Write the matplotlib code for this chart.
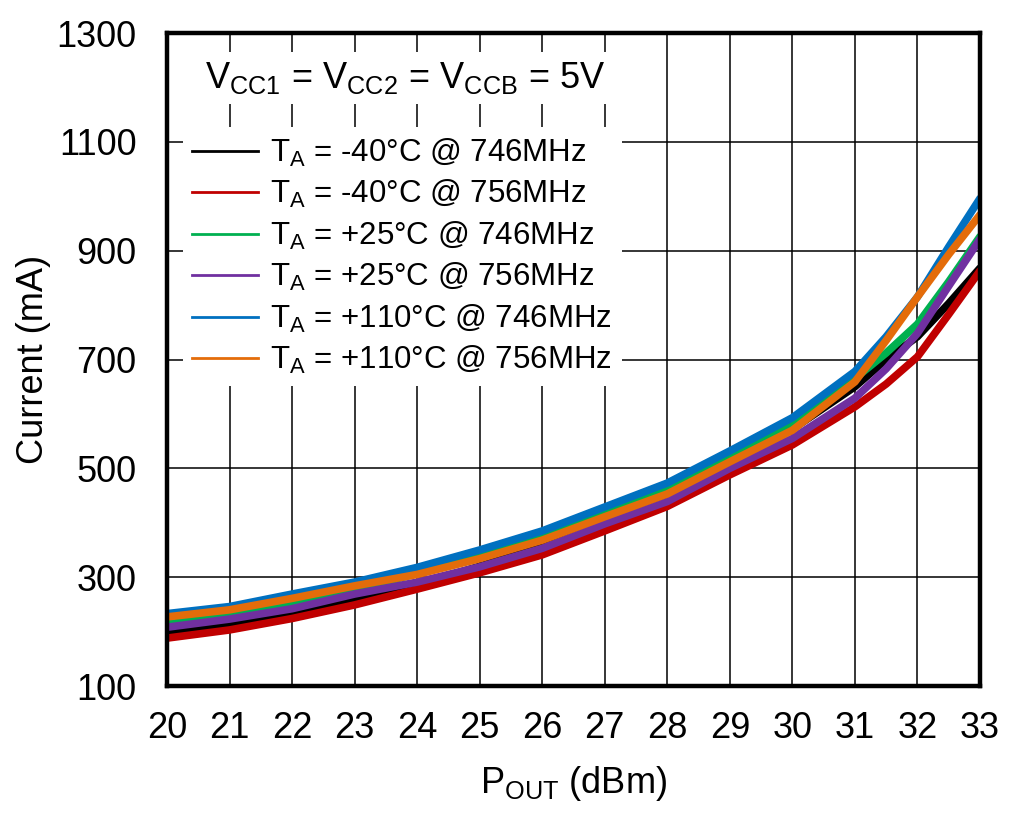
import numpy as np
import matplotlib
matplotlib.use("Agg")
import matplotlib.pyplot as plt
from matplotlib.lines import Line2D

plt.rcParams['font.family'] = ['Liberation Sans', 'DejaVu Sans']
plt.rcParams['mathtext.fontset'] = 'custom'
plt.rcParams['mathtext.rm'] = 'Liberation Sans'
plt.rcParams['mathtext.it'] = 'Liberation Sans:italic'

# output power (dBm)
pout = [20, 21, 22, 23, 24, 25, 26, 27, 28, 29, 30, 31, 31.5, 32, 32.5, 33]

# supply current (mA)
m40_746 = [199, 213, 234, 261, 286, 320, 358, 402, 447, 510, 572, 650, 700, 742, 803, 868]
m40_756 = [188, 203, 224, 249, 278, 308, 341, 385, 430, 488, 543, 613, 655, 705, 783, 863]
p25_746 = [214, 229, 251, 276, 307, 340, 376, 420, 463, 521, 583, 665, 712, 765, 843, 926]
p25_756 = [208, 223, 242, 269, 291, 319, 353, 398, 439, 500, 555, 629, 683, 748, 835, 921]
p110_746 = [233, 246, 269, 291, 318, 350, 385, 429, 473, 532, 593, 678, 742, 815, 907, 996]
p110_756 = [227, 240, 261, 284, 305, 334, 368, 411, 453, 512, 570, 659, 735, 815, 893, 966]

series = [m40_746, m40_756, p25_746, p25_756, p110_746, p110_756]
labels = [r'T$\mathregular{_A}$ = -40°C @ 746MHz',
          r'T$\mathregular{_A}$ = -40°C @ 756MHz',
          r'T$\mathregular{_A}$ = +25°C @ 746MHz',
          r'T$\mathregular{_A}$ = +25°C @ 756MHz',
          r'T$\mathregular{_A}$ = +110°C @ 746MHz',
          r'T$\mathregular{_A}$ = +110°C @ 756MHz']
colors = ['#000000', '#C00000', '#00B050', '#7030A0', '#0070C0', '#E46C0A']

fig = plt.figure(figsize=(10.15, 8.13), dpi=100)
ax = fig.add_axes([0.1645, 0.1562, 0.801, 0.8032])

for y, c in zip(series, colors):
    ax.plot(pout, y, color=c, lw=5.5, solid_capstyle='round', solid_joinstyle='round', zorder=3)

ax.set_xlim(20, 33)
ax.set_ylim(100, 1300)
ax.set_xticks(np.arange(20, 34, 1))
ax.set_yticks(np.arange(100, 1301, 200))
ax.grid(True, color='black', lw=1.1, zorder=1)
ax.tick_params(axis='both', length=0, labelsize=26)
ax.tick_params(axis='y', pad=22)
ax.tick_params(axis='x', pad=18)
for s in ax.spines.values():
    s.set_linewidth(3.2)
    s.set_zorder(5)

ax.set_xlabel(r'P$\mathregular{_{OUT}}$ (dBm)', fontsize=26, labelpad=13)
ax.set_ylabel('Current (mA)', fontsize=26, labelpad=4)

ax.text(0.293, 0.931,
        r'V$\mathregular{_{CC1}}$ = V$\mathregular{_{CC2}}$ = V$\mathregular{_{CCB}}$ = 5V',
        transform=ax.transAxes, ha='center', va='center', fontsize=26,
        bbox=dict(facecolor='white', edgecolor='none', pad=6), zorder=4)

handles = [Line2D([], [], color=c, lw=2) for c in colors]
lgd = ax.legend(handles, labels, loc='upper left', bbox_to_anchor=(0.012, 0.865),
                fontsize=22.5, frameon=True, fancybox=False, handlelength=2.1,
                handletextpad=0.4, labelspacing=0.3, borderaxespad=0.2,
                borderpad=0.3)
lgd.get_frame().set_edgecolor('none')
lgd.get_frame().set_alpha(1)
lgd.set_zorder(4)

fig.savefig('out.png', dpi=100)
